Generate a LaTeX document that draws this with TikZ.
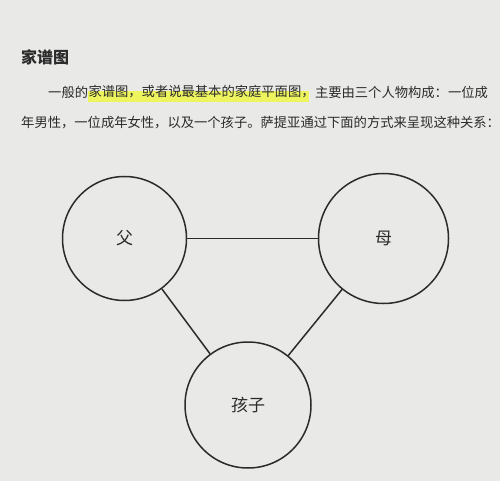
\documentclass[tikz,border=0pt]{standalone}
\usepackage{fontspec}
\newfontfamily\cjk{Noto Sans CJK SC}
\usetikzlibrary{positioning,calc}
\pgfdeclarelayer{background}
\pgfsetlayers{background,main}
\definecolor{paper}{HTML}{E9E9E7}
\definecolor{ink}{HTML}{2B2B2B}
\definecolor{marker}{HTML}{EEF45E}
\begin{document}
\begin{tikzpicture}[x=1pt,y=-1pt]
		\tikzset{person/.style = {shape=circle,draw=ink,line width=1.5pt,inner sep=0pt,text=ink,font=\cjk\fontsize{17}{17}\selectfont}}
		\tikzset{tie/.style = {draw=ink,line width=1.5pt}}
		\tikzset{prose/.style = {anchor=west,inner sep=0pt,text=ink,font=\cjk\fontsize{13.3}{13.3}\selectfont}}
		\useasboundingbox (0,0) rectangle (500,481);
		% heading and text
		\node[prose,font=\cjk\bfseries\fontsize{16}{16}\selectfont] (title) at (21,57) {家谱图};
		\node[prose] (l1a) at (48,92) {一般的};
		\node[prose,right=0pt of l1a] (l1b) {家谱图，或者说最基本的家庭平面图，};
		\node[prose,right=0pt of l1b] (l1c) {主要由三个人物构成：一位成};
		\node[prose] (l2) at (21,123) {年男性，一位成年女性，以及一个孩子。萨提亚通过下面的方式来呈现这种关系：};
		% family
		\node[person,minimum size=124pt] (dad) at (124.5,238.5) {父};
		\node[person,minimum size=130pt] (mom) at (383.5,238.5) {母};
		\node[person,minimum size=126pt] (kid) at (248,405) {孩子};
		\path[tie] (dad) edge (mom);
		\path[tie] (dad) edge (kid);
		\path[tie] (mom) edge (kid);
		\begin{pgfonlayer}{background}
		\fill[paper] (0,0) rectangle (500,481);
		\fill[marker] ($(l1b.west)+(0,-1)$) rectangle ($(l1b.south east)+(-6,3)$);
		\end{pgfonlayer}
	\end{tikzpicture}
\end{document}
